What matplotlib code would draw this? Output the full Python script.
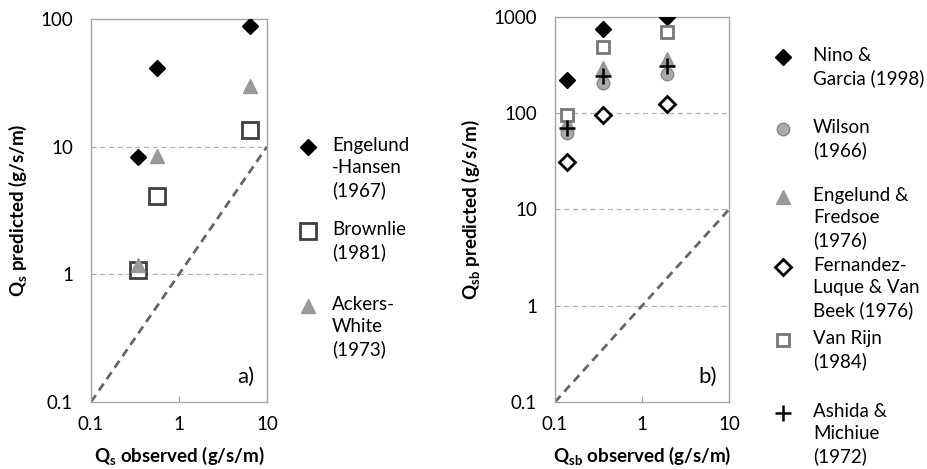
import matplotlib
matplotlib.use("Agg")
import matplotlib.pyplot as plt

plt.rcParams['font.family'] = ['Lato', 'DejaVu Sans']
plt.rcParams['mathtext.fontset'] = 'custom'
plt.rcParams['mathtext.rm'] = 'Lato'
plt.rcParams['mathtext.bf'] = 'Lato:bold'

# ---- panel a data ----
qs_obs = [0.342, 0.56, 6.4]
engelund_hansen = [8.3, 41, 88]
brownlie = [1.08, 4.1, 13.5]
ackers_white = [1.18, 8.4, 30]

# ---- panel b data ----
qsb_obs = [0.138, 0.353, 1.95]
nino_garcia = [222, 750, 990]
wilson = [63, 204, 255]
engelund_fredsoe = [80, 292, 365]
fernandez_luque = [31, 97, 124]
van_rijn = [95, 490, 692]
ashida_michiue = [71, 241, 311]

one_to_one = [0.1, 10]

xticks = [0.1, 1, 10]
xticklabels = ['0.1', '1', '10']
yticks_a = [0.1, 1, 10, 100]
yticklabels_a = ['0.1', '1', '10', '100']
yticks_b = [0.1, 1, 10, 100, 1000]
yticklabels_b = ['0.1', '1', '10', '100', '1000']

labels_a = ['Engelund\n-Hansen\n(1967)', 'Brownlie\n(1981)', 'Ackers-\nWhite\n(1973)']
labels_b = ['Nino &\nGarcia (1998)', 'Wilson\n(1966)', 'Engelund &\nFredsoe\n(1976)',
            'Fernandez-\nLuque & Van\nBeek (1976)', 'Van Rijn\n(1984)', 'Ashida &\nMichiue\n(1972)']

W, H = 928, 469
fig = plt.figure(figsize=(W / 100, H / 100), dpi=100)
axa = fig.add_axes([91 / W, 1 - 402 / H, 176 / W, 383 / H])
axb = fig.add_axes([555 / W, 1 - 402 / H, 174 / W, 385 / H])

spine_col = '#a6a6a6'
fs = 13.5

def style(ax, yticks, yticklabels, ylim):
    ax.set_xscale('log')
    ax.set_yscale('log')
    ax.set_xlim(0.1, 10)
    ax.set_ylim(*ylim)
    ax.set_xticks(xticks)
    ax.set_xticklabels(xticklabels)
    ax.set_yticks(yticks)
    ax.set_yticklabels(yticklabels)
    ax.minorticks_off()
    for s in ax.spines.values():
        s.set_color(spine_col)
        s.set_linewidth(1.0)
    ax.tick_params(axis='x', direction='in', length=4, color=spine_col, labelsize=fs, pad=10)
    ax.tick_params(axis='y', length=0, labelsize=fs, pad=13)
    for y in yticks[1:-1]:
        ax.axhline(y, color='#b3b3b3', lw=0.9, ls=(0, (4, 3)), zorder=0)
    ax.plot(one_to_one, one_to_one, color='#666666', lw=2.0, ls=(0, (3, 2)), zorder=1)

style(axa, yticks_a, yticklabels_a, (0.1, 100))
style(axb, yticks_b, yticklabels_b, (0.1, 1000))

# panel a
h1, = axa.plot(qs_obs, engelund_hansen, ls='none', marker='D', ms=8, color='black', zorder=3)
h2, = axa.plot(qs_obs, brownlie, ls='none', marker='s', ms=11, mfc='white', mec='#404040', mew=2, zorder=3)
h3, = axa.plot(qs_obs, ackers_white, ls='none', marker='^', ms=10, color='#999999', zorder=4)

axa.set_xlabel(r'$\mathbf{Q_s}$ observed (g/s/m)', fontsize=fs, fontweight='bold', labelpad=9)
axa.set_ylabel(r'$\mathbf{Q_s}$ predicted (g/s/m)', fontsize=fs, fontweight='bold', labelpad=8)
axa.text(0.93, 0.04, 'a)', transform=axa.transAxes, ha='right', va='bottom', fontsize=16)

# panel b
g1, = axb.plot(qsb_obs, nino_garcia, ls='none', marker='D', ms=8, color='black', zorder=3)
g2, = axb.plot(qsb_obs, wilson, ls='none', marker='o', ms=9, mfc='#aaaaaa', mec='#888888', zorder=3)
g3, = axb.plot(qsb_obs, engelund_fredsoe, ls='none', marker='^', ms=10, color='#999999', zorder=3)
g4, = axb.plot(qsb_obs, fernandez_luque, ls='none', marker='D', ms=8, mfc='white', mec='black', mew=2, zorder=3)
g5, = axb.plot(qsb_obs, van_rijn, ls='none', marker='s', ms=8, mfc='white', mec='#777777', mew=2, zorder=3)
g6, = axb.plot(qsb_obs, ashida_michiue, ls='none', marker='+', ms=11, color='black', mew=1.8, zorder=4)

axb.set_xlabel(r'$\mathbf{Q_{sb}}$ observed (g/s/m)', fontsize=fs, fontweight='bold', labelpad=9)
axb.set_ylabel(r'$\mathbf{Q_{sb}}$ predicted (g/s/m)', fontsize=fs, fontweight='bold', labelpad=8)
axb.text(0.93, 0.04, 'b)', transform=axb.transAxes, ha='right', va='bottom', fontsize=16)

def entry(handle, label, mx, tx, ypx):
    # legend key marker (from the plotted handle), centred on the first text line
    fig.legend([handle], [''], loc='center', bbox_to_anchor=(mx / W, 1 - ypx / H),
               frameon=False, fontsize=fs, handlelength=1.0, handletextpad=0.0,
               borderpad=0, borderaxespad=0)
    fig.text(tx / W, 1 - (ypx - 11) / H, label, ha='left', va='top',
             fontsize=fs, linespacing=1.34)

for h, lab, ypx in zip([h1, h2, h3], labels_a, [148, 232, 307]):
    entry(h, lab, 308, 332, ypx)

for h, lab, ypx in zip([g1, g2, g3, g4, g5, g6], labels_b, [58, 130, 198, 268, 341, 414]):
    entry(h, lab, 783, 813, ypx)

fig.savefig('out.png', dpi=100)
